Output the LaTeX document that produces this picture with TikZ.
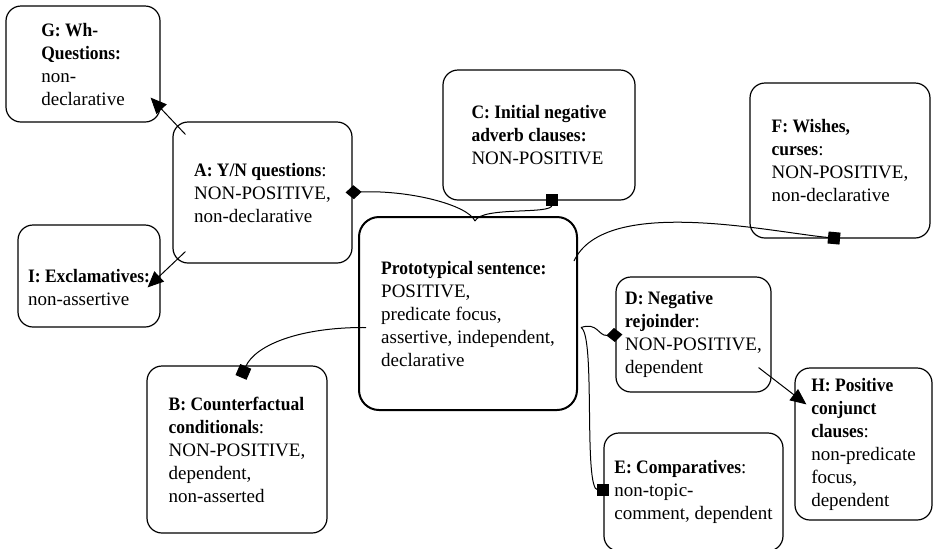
\documentclass[tikz,border=0pt]{standalone}
\usepackage{fontspec}
\setmainfont{Liberation Serif}[BoldFeatures={FakeStretch=0.92}]
\usetikzlibrary{shapes,arrows}
\usetikzlibrary{arrows.meta}
\tikzstyle{block} = [rectangle, draw, rounded corners=7.5pt, align=left,
    inner sep=0pt, line width=0.6pt, font=\fontsize{9.5}{11.5}\selectfont]
\tikzstyle{line} = [draw, line width=0.5pt, -{Triangle[length=8pt, width=7pt]}]
\tikzstyle{dia} = [draw, line width=0.5pt, -{Diamond[length=8pt, width=7pt]}]
\tikzstyle{sq} = [draw, line width=0.5pt, -{Square[length=6pt]}]

\begin{document}
\begin{tikzpicture}[x=0.5pt, y=-0.5pt]
      \useasboundingbox (0, 0) rectangle (934, 548);
      \node [block, minimum width=77pt, minimum height=58pt] (g) at (83, 64) {\textbf{G: Wh-}\\\textbf{Questions:}\\non-\\declarative};
      \node [block, minimum width=89.5pt, minimum height=70.5pt] (a) at (262.5, 192.5) {\textbf{A: Y/N questions}:\\NON-POSITIVE,\\non-declarative};
      \node [block, minimum width=71pt, minimum height=51pt] (i) at (89, 276) {\rule{0pt}{7pt}\\\textbf{I: Exclamatives:}\\non-assertive};
      \node [block, minimum width=96pt, minimum height=65pt] (c) at (539, 135) {\textbf{C: Initial negative}\\\textbf{adverb clauses:}\\NON-POSITIVE};
      \node [block, minimum width=90pt, minimum height=77.5pt] (f) at (840, 160.5) {\textbf{F: Wishes,}\\\textbf{curses}:\\NON-POSITIVE,\\non-declarative};
      \node [block, line width=1pt, rounded corners=10pt, minimum width=109pt, minimum height=96.5pt] (p) at (468, 313.5) {\textbf{Prototypical sentence:}\\POSITIVE,\\predicate focus,\\assertive, independent,\\declarative};
      \node [block, minimum width=77.5pt, minimum height=57.5pt] (d) at (693.5, 334.5) {\textbf{D: Negative}\\\textbf{rejoinder}:\\NON-POSITIVE,\\dependent};
      \node [block, minimum width=68.5pt, minimum height=76pt] (h) at (863.5, 444) {\textbf{H: Positive}\\\textbf{conjunct}\\\textbf{clauses}:\\non-predicate\\focus,\\dependent};
      \node [block, minimum width=90pt, minimum height=83.5pt] (b) at (237, 449.5) {\textbf{B: Counterfactual}\\\textbf{conditionals}:\\NON-POSITIVE,\\dependent,\\non-asserted};
      \node [block, minimum width=89.5pt, minimum height=59pt] (e) at (693.5, 492) {\textbf{E: Comparatives}:\\non-topic-\\comment, dependent};
      \path [line] ([shift={(13,13)}]a.north west) -- ([shift={(-10,-25)}]g.south east);
      \path [line] ([shift={(13,-12)}]a.south west) -- ([shift={(-13,63)}]i.north east);
      \path [dia] ([shift={(7,5)}]p.north) .. controls (468, 205) and (410, 190) .. ([shift={(-7,0)}]a.east);
      \path [sq] ([shift={(7,5)}]p.north) .. controls (482, 206) and (552, 215) .. ([shift={(13,-7)}]c.south);
      \path [sq] ([shift={(-4,45)}]p.north east) .. controls (605, 195) and (770, 232) .. ([shift={(0,0)}]f.south);
      \path [dia] ([shift={(3,14)}]p.east) .. controls (598, 322) and (598, 336) .. ([shift={(7,0)}]d.west);
      \path [sq] ([shift={(3,14)}]p.east) .. controls (596, 335) and (583, 490) .. ([shift={(6,-2)}]e.west);
      \path [sq] ([shift={(8,14)}]p.west) .. controls (300, 327) and (255, 345) .. ([shift={(4,12)}]b.north);
      \path [line] ([shift={(-13,-25)}]d.south east) -- ([shift={(12,37)}]h.north west);
  \end{tikzpicture}
\end{document}
